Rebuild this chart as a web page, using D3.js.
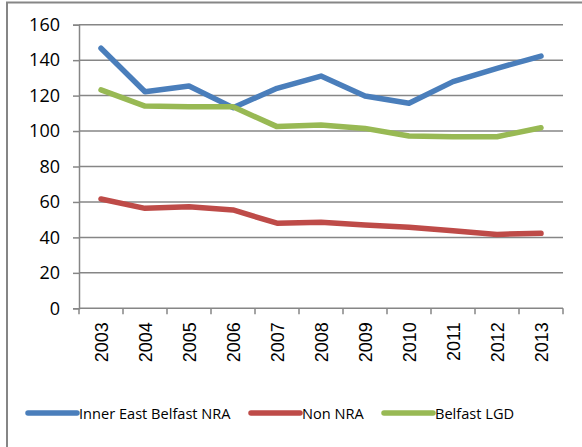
<!DOCTYPE html>
<html>
<meta charset="utf-8">
<head>
<script src="https://cdn.jsdelivr.net/npm/d3@7"></script>
<style>
  body { margin: 0; background: #fff; }
  svg { display: block; }
</style>
</head>
<body>
<div id="center"></div>
<script>
// data
var years = ["2003","2004","2005","2006","2007","2008","2009","2010","2011","2012","2013"];
var innerEast = [146.7, 122.2, 125.4, 113.2, 124.1, 131.0, 119.8, 115.7, 127.9, 135.4, 142.3];
var nonNra = [61.7, 56.4, 57.3, 55.5, 48.0, 48.5, 47.0, 45.7, 43.8, 41.7, 42.3];
var belfastLgd = [123.2, 114.1, 113.7, 113.7, 102.5, 103.4, 101.5, 97.2, 96.8, 96.8, 101.9];
var yTicks = [0, 20, 40, 60, 80, 100, 120, 140, 160];

var series = [
  { name: "Inner East Belfast NRA", values: innerEast, color: "#4a7ebb" },
  { name: "Non NRA", values: nonNra, color: "#be4b48" },
  { name: "Belfast LGD", values: belfastLgd, color: "#98b954" }
];

var W = 582, H = 447;
var mL = 79, mR = 563, mT = 24.7, mB = 308.3;

var svg = d3.select("#center").append("svg")
  .attr("width", W).attr("height", H);

// outer frame
svg.append("rect")
  .attr("x", 7).attr("y", 2.5)
  .attr("width", W + 10).attr("height", H + 10)
  .attr("fill", "none").attr("stroke", "#868686").attr("stroke-width", 2);

var x = d3.scaleBand().domain(years).range([mL, mR]);
var y = d3.scaleLinear().domain([0, 160]).range([mB, mT]);

// gridlines
svg.append("g").selectAll("line")
  .data(yTicks.filter(function(d) { return d > 0; }))
  .enter().append("line")
  .attr("x1", mL).attr("x2", mR)
  .attr("y1", function(d) { return y(d); })
  .attr("y2", function(d) { return y(d); })
  .attr("stroke", "#868686").attr("stroke-width", 1.5);

// y axis
var yAxis = svg.append("g")
  .attr("transform", "translate(" + mL + ",0)")
  .call(d3.axisLeft(y).tickValues(yTicks).tickSize(6).tickPadding(13));
yAxis.select(".domain").attr("stroke", "#868686").attr("stroke-width", 1.5);
yAxis.selectAll(".tick line").attr("stroke", "#868686").attr("stroke-width", 1.5);
yAxis.selectAll("text")
  .attr("font-family", "'Open Sans', 'Liberation Sans', sans-serif")
  .attr("font-size", 18).attr("fill", "#000");

// x axis: ticks on band edges
var xg = svg.append("g");
xg.append("line")
  .attr("x1", mL).attr("x2", mR)
  .attr("y1", mB).attr("y2", mB)
  .attr("stroke", "#868686").attr("stroke-width", 1.5);
xg.selectAll("line.tk")
  .data(years.concat(["end"]))
  .enter().append("line").attr("class", "tk")
  .attr("x1", function(d, i) { return mL + i * x.step(); })
  .attr("x2", function(d, i) { return mL + i * x.step(); })
  .attr("y1", mB).attr("y2", mB + 6)
  .attr("stroke", "#868686").attr("stroke-width", 1.5);
xg.selectAll("text")
  .data(years)
  .enter().append("text")
  .attr("transform", function(d) {
    return "translate(" + (x(d) + x.bandwidth() / 2 + 6.5) + "," + (mB + 14) + ") rotate(-90)";
  })
  .attr("text-anchor", "end")
  .attr("font-family", "'Liberation Sans', Arial, sans-serif")
  .attr("font-size", 18)
  .text(function(d) { return d; });

// lines
var line = d3.line()
  .x(function(d, i) { return x(years[i]) + x.bandwidth() / 2; })
  .y(function(d) { return y(d); });

svg.append("g").selectAll("path")
  .data(series)
  .enter().append("path")
  .attr("d", function(s) { return line(s.values); })
  .attr("fill", "none")
  .attr("stroke", function(s) { return s.color; })
  .attr("stroke-width", 5.5)
  .attr("stroke-linejoin", "round")
  .attr("stroke-linecap", "round");

// legend
var legendX = [27, 250, 383];
var lg = svg.append("g").selectAll("g")
  .data(series)
  .enter().append("g")
  .attr("transform", function(d, i) { return "translate(" + legendX[i] + ",413)"; });
lg.append("line")
  .attr("x1", 1).attr("x2", 50)
  .attr("stroke", function(d) { return d.color; })
  .attr("stroke-width", 5.5).attr("stroke-linecap", "round");
lg.append("text")
  .attr("x", 52).attr("y", 5.5)
  .attr("font-family", "'Open Sans', 'Liberation Sans', sans-serif")
  .attr("font-size", 14.6)
  .text(function(d) { return d.name; });
</script>
</body>
</html>
